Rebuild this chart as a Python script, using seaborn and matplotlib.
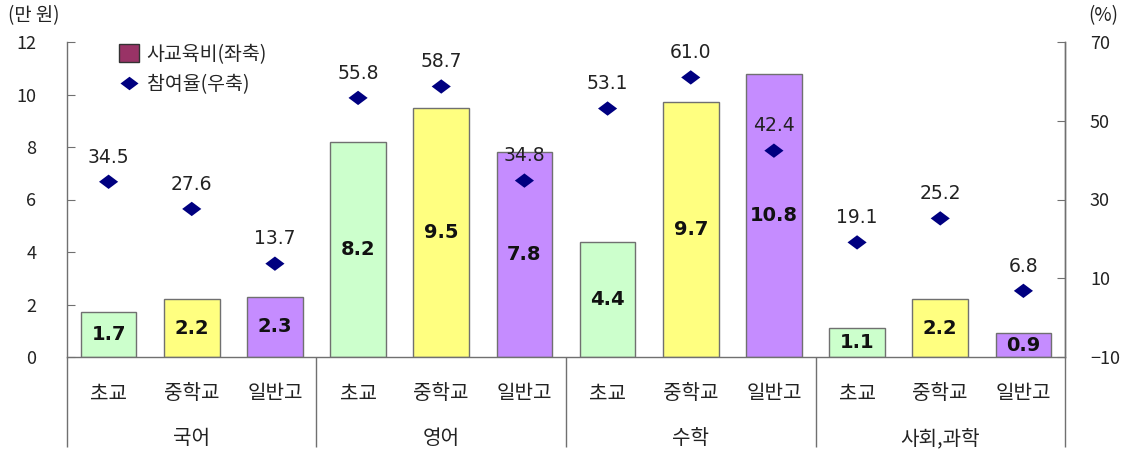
import matplotlib
matplotlib.use("Agg")
import matplotlib.pyplot as plt
import seaborn as sns
import numpy as np
import pandas as pd
from matplotlib.patches import Patch
from matplotlib.lines import Line2D
from matplotlib.path import Path

# ---- data ----
groups = ["국어", "영어", "수학", "사회,과학"]
levels = ["초교", "중학교", "일반고"]
spending = [1.7, 2.2, 2.3, 8.2, 9.5, 7.8, 4.4, 9.7, 10.8, 1.1, 2.2, 0.9]
participation = [34.5, 27.6, 13.7, 55.8, 58.7, 34.8, 53.1, 61.0, 42.4, 19.1, 25.2, 6.8]
left_ticks = [0, 2, 4, 6, 8, 10, 12]
right_ticks = [-10, 10, 30, 50, 70]

level_colors = {"초교": "#CCFFCC", "중학교": "#FFFF80", "일반고": "#C58CFF"}

n = len(spending)
pos = list(range(n))
df = pd.DataFrame({
    "pos": pos,
    "level": [levels[i % 3] for i in pos],
    "spending": spending,
    "participation": participation,
})

sns.set_style("white")
plt.rcParams["font.family"] = ["Noto Sans CJK KR", "DejaVu Sans"]

fig = plt.figure(figsize=(11.35, 4.5), dpi=100)
ax = fig.add_axes([67 / 1135, 93 / 450, 998 / 1135, 315 / 450])

palette = [level_colors[l] for l in df["level"]]
sns.barplot(data=df, x="pos", y="spending", hue="pos", palette=palette,
            legend=False, width=0.67, edgecolor="#707070", linewidth=1.0,
            saturation=1, ax=ax)
ax.set_xlim(-0.5, n - 0.5)
ax.set_ylim(0, 12)
ax.set_yticks(left_ticks)
ax.set_xlabel("")
ax.set_ylabel("")

# bar value labels
for p, v in zip(pos, spending):
    ax.text(p, v / 2, f"{v:.1f}", ha="center", va="center", fontsize=14,
            fontweight="bold", color="#111111", family="DejaVu Sans")

# spines
ax.spines["top"].set_visible(False)
for s in ["left", "right", "bottom"]:
    ax.spines[s].set_color("#707070")
    ax.spines[s].set_linewidth(1.0)

ax.tick_params(axis="y", direction="in", length=6, color="#707070",
               labelsize=13, pad=22, labelcolor="#222222", left=True)

# category labels (major ticks at bar centers, invisible tick lines)
ax.set_xticks(pos)
ax.set_xticklabels([levels[i % 3] for i in pos])
ax.tick_params(axis="x", which="major", length=0, pad=19, labelsize=14.5,
               labelcolor="#222222")
# boundary ticks
ax.set_xticks(np.arange(-0.5, n, 1.0), minor=True)
ax.tick_params(axis="x", which="minor", direction="inout", length=16,
               color="#707070", width=1.0)
ax.xaxis.remove_overlapping_locs = False

# group separator ticks
sec1 = ax.secondary_xaxis("bottom")
sec1.set_xticks([-0.5, 2.5, 5.5, 8.5, 11.5])
sec1.set_xticklabels([""] * 5)
sec1.tick_params(axis="x", direction="out", length=65, color="#707070", width=1.0)
sec1.spines["bottom"].set_visible(False)

# group labels
sec2 = ax.secondary_xaxis("bottom")
sec2.set_xticks([1, 4, 7, 10])
sec2.set_xticklabels(groups)
sec2.tick_params(axis="x", length=0, pad=51, labelsize=14.5, labelcolor="#222222")
sec2.spines["bottom"].set_visible(False)

# right axis: participation rate
ax2 = ax.twinx()
diamond = Path([(-1, 0), (0, 0.75), (1, 0), (0, -0.75), (-1, 0)],
               [Path.MOVETO, Path.LINETO, Path.LINETO, Path.LINETO, Path.CLOSEPOLY])
sns.scatterplot(data=df, x="pos", y="participation", marker=diamond, s=190,
                color="#000080", edgecolor="none", ax=ax2, zorder=5)
ax2.set_ylim(-10, 70)
ax2.set_yticks(right_ticks)
ax2.set_ylabel("")
ax2.tick_params(axis="y", direction="in", length=6, color="#707070",
                labelsize=13, pad=18, labelcolor="#222222")
for s in ["top", "left", "bottom"]:
    ax2.spines[s].set_visible(False)
ax2.spines["right"].set_color("#707070")
ax2.spines["right"].set_linewidth(1.0)

for p, v in zip(pos, participation):
    ax2.annotate(f"{v:.1f}", (p, v), xytext=(0, 11), textcoords="offset points",
                 ha="center", va="bottom", fontsize=13.5, color="#222222",
                 family="DejaVu Sans")

# legend
handles = [
    Patch(facecolor="#993366", edgecolor="#333333", linewidth=1.0),
    Line2D([], [], linestyle="none", marker=diamond, markersize=13,
           markerfacecolor="#000080", markeredgecolor="none"),
]
ax.legend(handles, ["사교육비(좌축)", "참여율(우축)"], loc="upper left",
          bbox_to_anchor=(0.035, 1.05), frameon=False, fontsize=14,
          handlelength=1.0, handleheight=1.0, handletextpad=0.4, labelspacing=0.5)

# unit labels
fig.text(8 / 1135, 1 - 16 / 450, "(만 원)", fontsize=13.5, va="center", ha="left",
         color="#222222")
fig.text(1088 / 1135, 1 - 16 / 450, "(%)", fontsize=13.5, va="center", ha="left",
         color="#222222")

fig.savefig("out.png", dpi=100)
